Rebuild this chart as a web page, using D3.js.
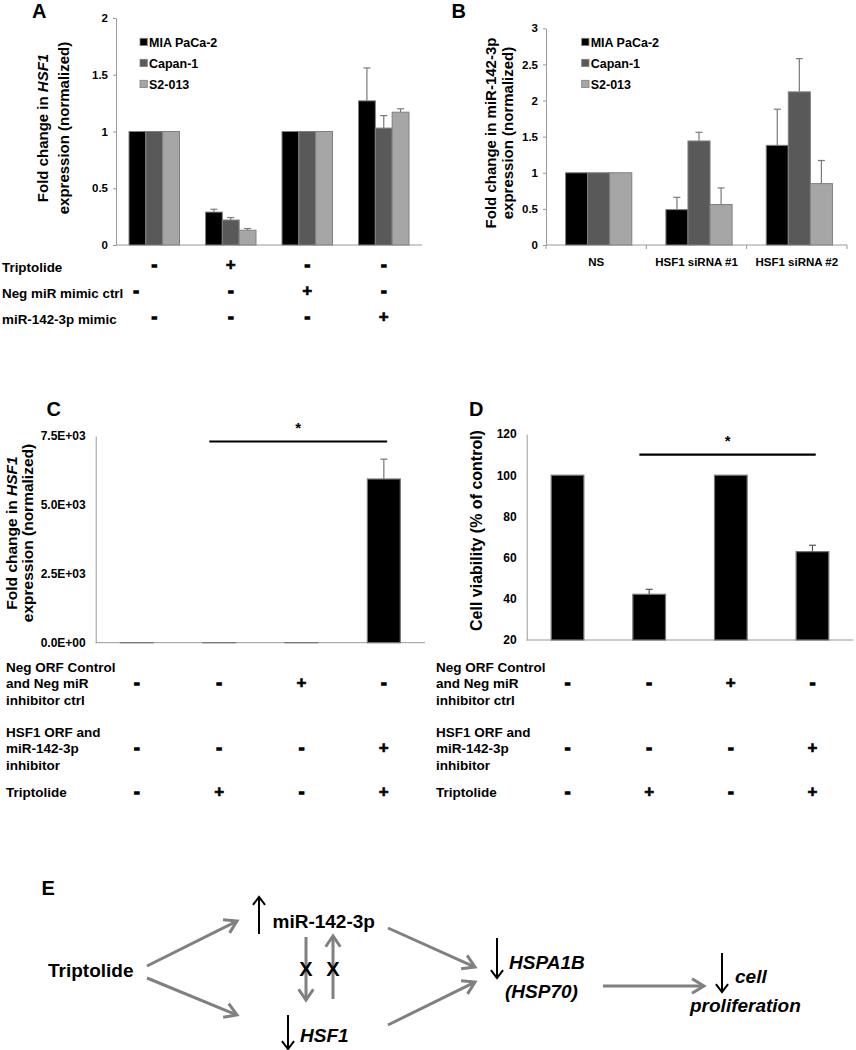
<!DOCTYPE html>
<html><head><meta charset="utf-8">
<script src="https://cdn.jsdelivr.net/npm/d3@7"></script>
<style>
body{margin:0;background:#fff}
svg{display:block}
text{font-family:"Liberation Sans",Arial,sans-serif;font-weight:bold;fill:#000}
</style>
</head><body><svg id="c" width="856" height="1050"></svg>
<script>
// ---------------- DATA ----------------
const seriesNames = ["MIA PaCa-2", "Capan-1", "S2-013"];
const seriesColors = ["#000000", "#595959", "#a6a6a6"];

// Panel A
const aConditions = ["Control", "Triptolide", "Neg miR mimic ctrl", "miR-142-3p mimic"];
const aMIA = [1.00, 0.29, 1.00, 1.27];
const aMIAErr = [0, 0.025, 0, 0.29];
const aCapan = [1.00, 0.22, 1.00, 1.03];
const aCapanErr = [0, 0.022, 0, 0.11];
const aS2 = [1.00, 0.13, 1.00, 1.17];
const aS2Err = [0, 0.015, 0, 0.03];
const aTicks = [0, 0.5, 1, 1.5, 2];
const aRowLabels = ["Triptolide", "Neg miR mimic ctrl", "miR-142-3p mimic"];
const aRowSigns = [["-", "+", "-", "-"], ["-", "-", "+", "-"], ["-", "-", "-", "+"]];

// Panel B
const bCategories = ["NS", "HSF1 siRNA #1", "HSF1 siRNA #2"];
const bMIA = [1.00, 0.49, 1.38];
const bMIAErr = [0, 0.17, 0.50];
const bCapan = [1.00, 1.44, 2.12];
const bCapanErr = [0, 0.12, 0.46];
const bS2 = [1.00, 0.56, 0.85];
const bS2Err = [0, 0.23, 0.32];
const bTicks = [0, 0.5, 1, 1.5, 2, 2.5, 3];

// Panels C and D
const cdConditions = ["cond1", "cond2", "cond3", "cond4"];
const cValues = [1, 1, 1, 5940];
const cErr = [0, 0, 0, 720];
const cTicks = [0, 2500, 5000, 7500];
const cTickLabels = ["0.0E+00", "2.5E+03", "5.0E+03", "7.5E+03"];
const cSig = 7300;
const dValues = [100, 42.2, 100, 62.9];
const dErr = [0, 2.4, 0, 3.1];
const dTicks = [20, 40, 60, 80, 100, 120];
const dSig = 110;
const cdRowLabels = [["Neg ORF Control", "and Neg miR", "inhibitor ctrl"], ["HSF1 ORF and", "miR-142-3p", "inhibitor"], ["Triptolide"]];
const cdRowSigns = [["-", "-", "+", "-"], ["-", "-", "-", "+"], ["-", "+", "-", "+"]];

// ---------------- DRAWING ----------------
const svg = d3.select("#c");
svg.append("rect").attr("width", 856).attr("height", 1050).attr("fill", "#fff");
const AXIS = "#9a9a9a";

function panelLetter(t, x, y) {
  svg.append("text").attr("x", x).attr("y", y).attr("font-size", 20).text(t);
}

function sign(s, x, y) {
  svg.append("text").attr("x", x).attr("y", y).attr("text-anchor", "middle")
    .attr("font-size", 17).attr("stroke", "#000").attr("stroke-width", s === "-" ? 1.3 : 0.6).text(s);
}

function yAxis(y, x, ticks, fmt, size, pad, fs) {
  const g = svg.append("g").attr("transform", `translate(${x},0)`)
    .call(d3.axisLeft(y).tickValues(ticks).tickFormat(fmt).tickSize(size).tickSizeOuter(0).tickPadding(pad));
  g.attr("font-family", null).attr("font-size", null);
  g.select(".domain").attr("stroke", AXIS);
  g.selectAll(".tick line").attr("stroke", AXIS);
  g.selectAll(".tick text").attr("font-size", fs).attr("fill", "#000");
  return g;
}

function yLabel(lines, x, y, fs) {
  lines.forEach((ln, i) => {
    const t = svg.append("text").attr("transform", `translate(${x[i]},${y}) rotate(-90)`)
      .attr("text-anchor", "middle").attr("font-size", fs);
    ln.forEach(part => t.append("tspan").attr("font-style", part.i ? "italic" : null).text(part.t));
  });
}

function errorBar(cx, yTop, yErr, color) {
  svg.append("line").attr("x1", cx).attr("x2", cx).attr("y1", yTop).attr("y2", yErr)
    .attr("stroke", color).attr("stroke-width", 1.2);
  svg.append("line").attr("x1", cx - 3.5).attr("x2", cx + 3.5).attr("y1", yErr).attr("y2", yErr)
    .attr("stroke", color).attr("stroke-width", 1.2);
}

function grouped(cfg) {
  const x0 = d3.scaleBand().domain(cfg.cats).range(cfg.xr);
  const x1 = d3.scaleBand().domain(seriesNames)
    .range([x0.bandwidth() * cfg.gf[0], x0.bandwidth() * cfg.gf[1]]);
  const y = d3.scaleLinear().domain(cfg.domain).range(cfg.yr);
  yAxis(y, cfg.xr[0], cfg.ticks, cfg.fmt, 3, 5, 11.5);
  svg.append("line").attr("x1", cfg.xr[0]).attr("x2", cfg.xr[1]).attr("y1", y(cfg.domain[0])).attr("y2", y(cfg.domain[0]))
    .attr("stroke", AXIS);
  if (cfg.xTicks) {
    const bounds = cfg.cats.map(c => x0(c)).concat([cfg.xr[1]]);
    bounds.forEach(b => svg.append("line").attr("x1", b).attr("x2", b)
      .attr("y1", y(cfg.domain[0])).attr("y2", y(cfg.domain[0]) + 4).attr("stroke", AXIS));
  }
  cfg.cats.forEach((c, i) => {
    seriesNames.forEach((s, j) => {
      const v = cfg.vals[j][i];
      const bx = x0(c) + x1(s);
      svg.append("rect").attr("x", bx).attr("y", y(v)).attr("width", x1.bandwidth())
        .attr("height", y(cfg.domain[0]) - y(v)).attr("fill", seriesColors[j])
        .attr("stroke", "#808080").attr("stroke-width", 1);
    });
    seriesNames.forEach((s, j) => {
      const v = cfg.vals[j][i], e = cfg.errs[j][i];
      if (e > 0) errorBar(x0(c) + x1(s) + x1.bandwidth() / 2, y(v), y(v + e), "#7a7a7a");
    });
  });
  // legend
  seriesNames.forEach((s, j) => {
    const ly = cfg.legend[1] + j * 21;
    svg.append("rect").attr("x", cfg.legend[0]).attr("y", ly - 3.7).attr("width", 7.3).attr("height", 7.3)
      .attr("fill", seriesColors[j]).attr("stroke", "#808080").attr("stroke-width", 0.8);
    svg.append("text").attr("x", cfg.legend[0] + 9).attr("y", ly + 4.5).attr("font-size", 12.5).text(s);
  });
  return { x0, y };
}

// ---- Panel A ----
panelLetter("A", 32, 17.5);
const A = grouped({
  cats: aConditions, xr: [116, 422], yr: [245, 18], domain: [0, 2], ticks: aTicks,
  fmt: d3.format(""), gf: [0.17, 0.83],
  vals: [aMIA, aCapan, aS2], errs: [aMIAErr, aCapanErr, aS2Err], legend: [140, 42]
});
yLabel([[{t: "Fold change in "}, {t: "HSF1", i: true}], [{t: "expression (normalized)"}]], [47.5, 69], 128, 15);
aRowLabels.forEach((lab, r) => {
  const by = 271.5 + r * 26;
  svg.append("text").attr("x", 2).attr("y", by).attr("font-size", 13.4).text(lab);
  aRowSigns[r].forEach((s, i) => {
    let cx = A.x0(aConditions[i]) + A.x0.bandwidth() / 2;
    if (r === 1 && i === 0) cx = 136;
    sign(s, cx, by - 1.5);
  });
});

// ---- Panel B ----
panelLetter("B", 451.5, 17.5);
const B = grouped({
  cats: bCategories, xr: [546, 847], yr: [245, 28.3], domain: [0, 3], ticks: bTicks,
  fmt: d3.format(""), gf: [0.195, 0.855], xTicks: true,
  vals: [bMIA, bCapan, bS2], errs: [bMIAErr, bCapanErr, bS2Err], legend: [581.7, 42]
});
yLabel([[{t: "Fold change in miR-142-3p"}], [{t: "expression (normalized)"}]], [496, 512.5], 133, 15);
bCategories.forEach(c => {
  svg.append("text").attr("x", B.x0(c) + B.x0.bandwidth() / 2).attr("y", 266).attr("text-anchor", "middle")
    .attr("font-size", 11.5).text(c);
});

// ---- Panels C & D ----
function single(cfg) {
  const x = d3.scaleBand().domain(cdConditions).range(cfg.xr).paddingInner(0.6).paddingOuter(0.3);
  const y = d3.scaleLinear().domain(cfg.domain).range(cfg.yr);
  yAxis(y, cfg.xr[0], cfg.ticks, (d, i) => cfg.labels ? cfg.labels[i] : d, 0, 10, 12);
  svg.append("line").attr("x1", cfg.xr[0]).attr("x2", cfg.xr[1]).attr("y1", y(cfg.domain[0])).attr("y2", y(cfg.domain[0]))
    .attr("stroke", AXIS);
  cdConditions.forEach((c, i) => {
    const v = cfg.vals[i];
    svg.append("rect").attr("x", x(c)).attr("y", y(v)).attr("width", x.bandwidth())
      .attr("height", y(cfg.domain[0]) - y(v)).attr("fill", "#000").attr("stroke", "#777").attr("stroke-width", 1.2);
    if (cfg.errs[i] > 0) errorBar(x(c) + x.bandwidth() / 2, y(v), y(v + cfg.errs[i]), cfg.errColor);
  });
  // significance bar between conditions 2 and 4
  const step = x.step();
  const sx1 = x(cdConditions[1]) + x.bandwidth() / 2 - 0.12 * step;
  const sx2 = x(cdConditions[3]) + x.bandwidth() / 2 + 0.04 * step;
  svg.append("line").attr("x1", sx1).attr("x2", sx2).attr("y1", y(cfg.sig)).attr("y2", y(cfg.sig))
    .attr("stroke", "#000").attr("stroke-width", 2.2);
  svg.append("text").attr("x", (sx1 + sx2) / 2).attr("y", y(cfg.sig) - 9).attr("text-anchor", "middle")
    .attr("font-size", 15).text("*");
  // condition rows
  const rowTop = [671.5, 736.5, 797];
  cdRowLabels.forEach((lines, r) => {
    lines.forEach((ln, k) => svg.append("text").attr("x", cfg.labelX).attr("y", rowTop[r] + k * 16.6)
      .attr("font-size", 13.5).text(ln));
    const sy = lines.length > 1 ? rowTop[r] + 16.6 : rowTop[r];
    cdRowSigns[r].forEach((s, i) => sign(s, x(cdConditions[i]) + x.bandwidth() / 2, sy));
  });
  return { x, y };
}

panelLetter("C", 46.5, 416);
single({ xr: [95.7, 425], yr: [642.7, 436], domain: [0, 7500], ticks: cTicks, labels: cTickLabels,
  vals: cValues, errs: cErr, sig: cSig, errColor: "#777", labelX: 6 });
yLabel([[{t: "Fold change in "}, {t: "HSF1", i: true}], [{t: "expression (normalized)"}]], [16.5, 33], 533, 15.5);

panelLetter("D", 469, 416);
single({ xr: [526.7, 853.3], yr: [640, 434], domain: [20, 120], ticks: dTicks,
  vals: dValues, errs: dErr, sig: dSig, errColor: "#555", labelX: 436 });
yLabel([[{t: "Cell viability (% of control)"}]], [482], 530.5, 16);

// ---- Panel E (pathway diagram) ----
panelLetter("E", 41.5, 895);
function arrow(x1, y1, x2, y2, color, w, head, spread) {
  const a = Math.atan2(y2 - y1, x2 - x1);
  svg.append("line").attr("x1", x1).attr("y1", y1).attr("x2", x2 - Math.cos(a) * w * 0.6).attr("y2", y2 - Math.sin(a) * w * 0.6)
    .attr("stroke", color).attr("stroke-width", w);
  const p = d3.path();
  p.moveTo(x2 - head * Math.cos(a - spread), y2 - head * Math.sin(a - spread));
  p.lineTo(x2, y2);
  p.lineTo(x2 - head * Math.cos(a + spread), y2 - head * Math.sin(a + spread));
  svg.append("path").attr("d", p.toString()).attr("fill", "none").attr("stroke", color)
    .attr("stroke-width", w).attr("stroke-linejoin", "miter");
}
const GREY = "#808080";
function eText(t, x, y, italic) {
  svg.append("text").attr("x", x).attr("y", y).attr("font-size", 19).attr("font-style", italic ? "italic" : null).text(t);
}
eText("Triptolide", 48, 977);
eText("miR-142-3p", 272.5, 928);
eText("HSF1", 300, 1041.5, true);
eText("HSPA1B", 509, 969, true);
eText("(HSP70)", 505, 997.5, true);
eText("cell", 735, 982.5, true);
eText("proliferation", 690, 1011.5, true);

arrow(147, 966, 237, 921, GREY, 3, 14, 0.55);
arrow(147, 978, 237, 1015, GREY, 3, 14, 0.55);
arrow(388, 928, 475, 967, GREY, 3, 14, 0.55);
arrow(388, 1025, 475, 982, GREY, 3, 14, 0.55);
arrow(603, 986, 704, 986, GREY, 3, 14, 0.55);
arrow(306, 937, 306, 1000, GREY, 3, 13, 0.6);
arrow(333, 999, 333, 936, GREY, 3, 13, 0.6);
svg.append("text").attr("x", 306).attr("y", 975.5).attr("text-anchor", "middle").attr("font-size", 20).text("X");
svg.append("text").attr("x", 333).attr("y", 975.5).attr("text-anchor", "middle").attr("font-size", 20).text("X");

arrow(259, 934, 259, 897, "#000", 2, 10, 0.65);
arrow(288, 1015, 288, 1049, "#000", 2, 10, 0.65);
arrow(497, 938, 497, 978, "#000", 2, 10, 0.65);
arrow(722, 953, 722, 992, "#000", 2, 10, 0.65);
</script>
</body></html>
